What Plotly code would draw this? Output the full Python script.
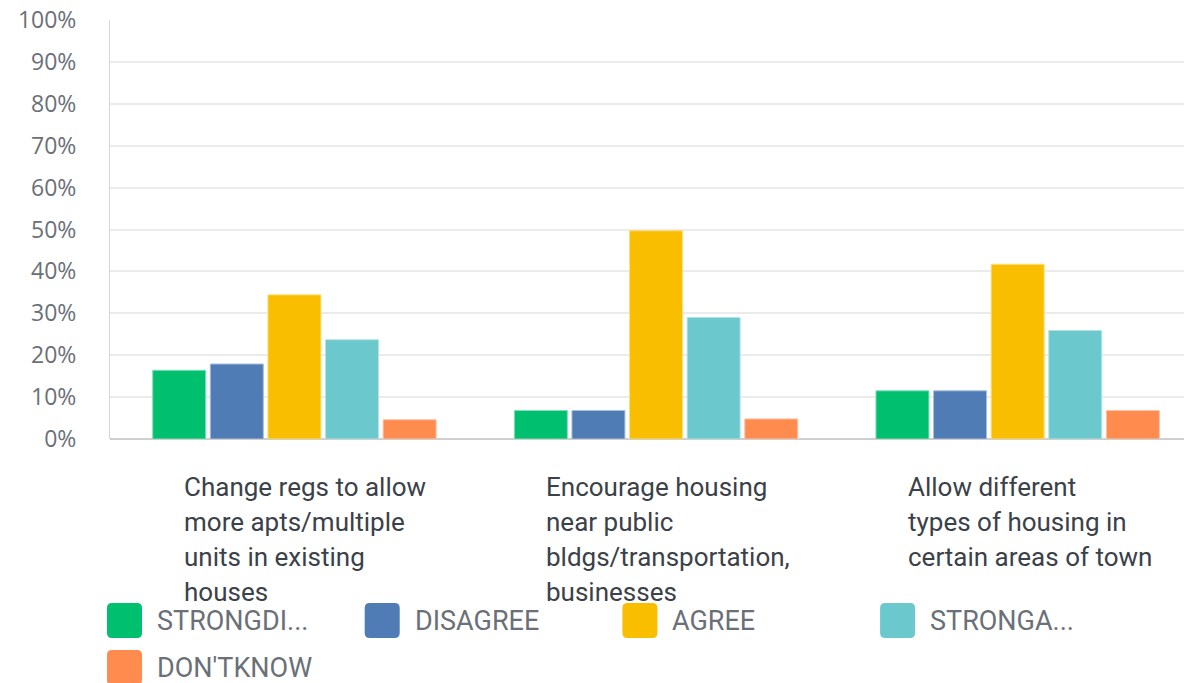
import plotly.graph_objects as go

# ---- data ----
categories = [
    "Change regs to allow<br>more apts/multiple<br>units in existing<br>houses",
    "Encourage housing<br>near public<br>bldgs/transportation,<br>businesses",
    "Allow different<br>types of housing in<br>certain areas of town",
]
series_names = ["STRONGLY DISAGREE", "DISAGREE", "AGREE", "STRONGLY AGREE", "DON'T KNOW"]
legend_labels = ["STRONGDI...", "DISAGREE", "AGREE", "STRONGA...", "DON'TKNOW"]
strongly_disagree = [16.4, 6.8, 11.5]
disagree = [17.9, 6.8, 11.5]
agree = [34.4, 49.7, 41.7]
strongly_agree = [23.7, 29.0, 25.9]
dont_know = [4.6, 4.8, 6.8]
y_ticks = [0, 10, 20, 30, 40, 50, 60, 70, 80, 90, 100]
y_tick_labels = [f"{v}%" for v in y_ticks]

values = [strongly_disagree, disagree, agree, strongly_agree, dont_know]
colors = ["#00bf6f", "#507cb6", "#f9be00", "#6bc8cd", "#ff8b4f"]
edge_colors = ["#7fdfb7", "#a7bddb", "#fcde7f", "#b5e3e6", "#ffc5a7"]

W, H = 1184, 683
ML, MR, MT, MB = 110, 0, 20, 244

fig = go.Figure()
xs = list(range(len(categories)))
for name, vals, c, ec in zip(series_names, values, colors, edge_colors):
    fig.add_trace(go.Bar(
        x=xs, y=vals, name=name,
        marker=dict(color=c, line=dict(color=ec, width=1)),
        hovertemplate="%{y:.1f}%<extra>" + name + "</extra>",
    ))

fig.update_layout(
    width=W, height=H,
    margin=dict(l=ML, r=MR, t=MT, b=MB),
    paper_bgcolor="white", plot_bgcolor="white",
    barmode="group", bargap=0.2035, bargroupgap=0.08,
    showlegend=False,
    font=dict(family="Roboto", color="#6b7078"),
)
fig.update_xaxes(range=[-0.51, 2.46], showticklabels=False, showgrid=False,
                 zeroline=False, showline=False, ticks="")
fig.update_yaxes(range=[0, 100], tickmode="array", tickvals=y_ticks, ticktext=y_tick_labels,
                 showgrid=True, gridcolor="#ebebeb", gridwidth=1.5,
                 zeroline=True, zerolinecolor="#cfcfcf", zerolinewidth=2,
                 showline=True, linecolor="#d6d6d6", linewidth=1,
                 ticks="", ticklabelstandoff=28,
                 tickfont=dict(family="Open Sans", size=23, color="#6b7078"))

annotations = []
# category labels (left-aligned, custom line pitch)
for i, lab in enumerate(categories):
    for j, line in enumerate(lab.split("<br>")):
        annotations.append(dict(
            text=line, xref="x", x=i, xanchor="left", xshift=-112,
            yref="paper", y=0, yanchor="middle", yshift=-48 - 35 * j,
            showarrow=False, align="left",
            font=dict(family="Roboto", size=26, color="#3b4149"),
        ))

# custom legend
shapes = []
pitch = 257.7
per_row = 4
for k, (lab, c) in enumerate(zip(legend_labels, colors)):
    row, col = divmod(k, per_row)
    left = -3 + col * pitch
    top = -164 - row * 47
    s = 35
    r = 5
    x0, x1 = left, left + s
    y1, y0 = top, top - s
    path = (f"M {x0+r},{y0} L {x1-r},{y0} Q {x1},{y0} {x1},{y0+r} "
            f"L {x1},{y1-r} Q {x1},{y1} {x1-r},{y1} L {x0+r},{y1} "
            f"Q {x0},{y1} {x0},{y1-r} L {x0},{y0+r} Q {x0},{y0} {x0+r},{y0} Z")
    shapes.append(dict(type="path", path=path, xref="paper", yref="paper",
                       xsizemode="pixel", ysizemode="pixel", xanchor=0, yanchor=0,
                       fillcolor=c, line=dict(width=0)))
    annotations.append(dict(
        text=lab, xref="paper", x=0, xanchor="left", xshift=left + 48,
        yref="paper", y=0, yanchor="middle", yshift=top - s / 2,
        showarrow=False, font=dict(family="Roboto", size=27, color="#6b7078"),
    ))

fig.update_layout(annotations=annotations, shapes=shapes)
fig.write_html(
    "out.html",
    config={"displayModeBar": False},
    post_script="document.body.style.margin='0px';document.body.style.overflow='hidden';",
)
